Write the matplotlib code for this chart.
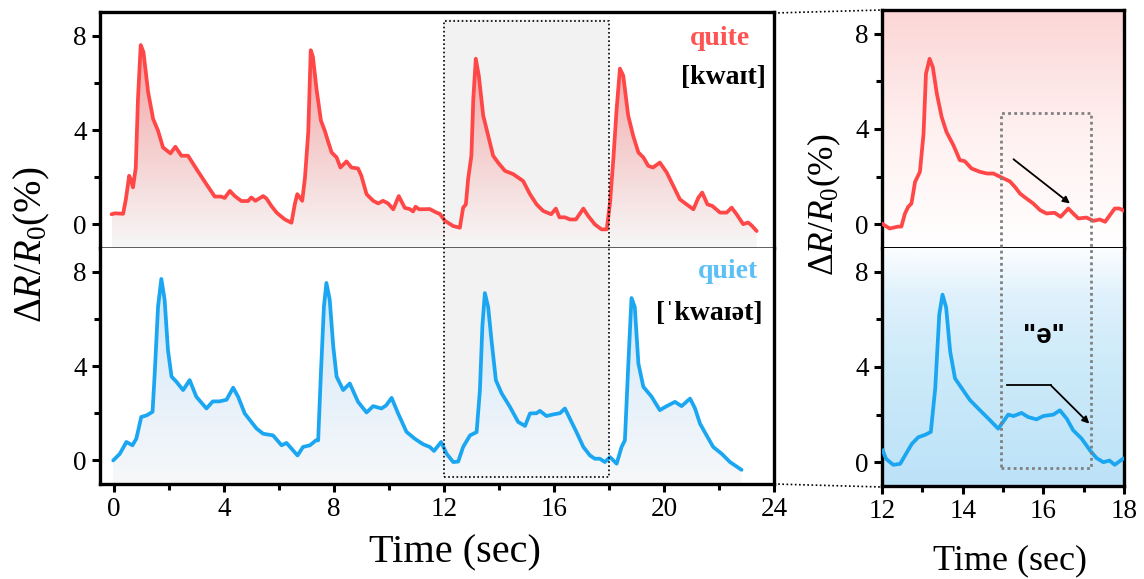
import numpy as np
import matplotlib
matplotlib.use("Agg")
import matplotlib.pyplot as plt
from matplotlib.colors import LinearSegmentedColormap
from matplotlib.lines import Line2D
from matplotlib.patches import Polygon, Rectangle
from matplotlib.transforms import blended_transform_factory

plt.rcParams['font.family'] = ['Liberation Serif', 'DejaVu Serif']
plt.rcParams['mathtext.fontset'] = 'custom'
plt.rcParams['mathtext.rm'] = 'Liberation Serif'
plt.rcParams['mathtext.it'] = 'Liberation Serif:italic'

RED = '#ff4747'
BLUE = '#1ba6f2'

# "quite" trace, full recording (sec, %)
quite_t = [-0.08, 0.04, 0.34, 0.44, 0.56, 0.62, 0.70, 0.80, 0.88, 0.98,
           1.08, 1.25, 1.43, 1.61, 1.79, 2.06, 2.24, 2.46, 2.70, 3.01,
           3.37, 3.67, 3.90, 4.03, 4.22, 4.40, 4.64, 4.88, 5.00, 5.15,
           5.43, 5.55, 5.73, 5.92, 6.00, 6.22, 6.46, 6.58, 6.67, 6.76,
           6.85, 6.95, 7.07, 7.16, 7.24, 7.37, 7.53, 7.67, 7.80, 7.92,
           8.10, 8.24, 8.46, 8.64, 8.88, 9.00, 9.19, 9.43, 9.61, 9.79,
           9.97, 10.16, 10.36, 10.58, 10.76, 10.88, 10.97, 11.10, 11.49, 11.73,
           11.85, 12.04, 12.34, 12.58, 12.70, 12.80, 12.88, 13.00, 13.07, 13.16,
           13.27, 13.43, 13.61, 13.79, 13.97, 14.22, 14.52, 14.88, 15.13, 15.37,
           15.61, 15.90, 16.07, 16.20, 16.40, 16.58, 16.80, 17.07, 17.25, 17.49,
           17.73, 17.92, 18.04, 18.16, 18.28, 18.40, 18.52, 18.70, 18.88, 19.07,
           19.25, 19.43, 19.60, 19.85, 20.10, 20.34, 20.58, 20.82, 21.07, 21.25,
           21.39, 21.58, 21.76, 22.04, 22.28, 22.46, 22.64, 22.88, 23.06, 23.19,
           23.37]
quite_v = [0.43, 0.47, 0.45, 1.06, 2.06, 1.90, 1.57, 2.40, 5.30, 7.60,
           7.30, 5.60, 4.47, 3.97, 3.26, 3.01, 3.29, 2.91, 2.91, 2.34,
           1.70, 1.18, 1.18, 1.12, 1.42, 1.20, 0.99, 0.99, 1.14, 1.00,
           1.20, 1.10, 0.78, 0.50, 0.42, 0.21, 0.07, 0.85, 1.28, 1.15,
           1.00, 1.97, 3.90, 7.38, 7.10, 5.74, 4.40, 3.97, 3.48, 3.05,
           2.84, 2.41, 2.67, 2.41, 2.37, 2.06, 1.28, 1.00, 0.89, 1.00,
           0.89, 0.64, 1.20, 0.70, 0.65, 0.55, 0.75, 0.64, 0.65, 0.50,
           0.45, 0.15, -0.07, -0.14, 0.71, 0.85, 1.91, 2.91, 5.32, 7.02,
           6.30, 4.61, 3.76, 2.91, 2.62, 2.27, 2.13, 1.84, 1.28, 0.85,
           0.57, 0.43, 0.67, 0.30, 0.30, 0.21, 0.21, 0.67, 0.35, 0.00,
           -0.21, -0.21, 0.92, 2.77, 4.89, 6.60, 6.30, 4.61, 3.76, 3.05,
           2.84, 2.48, 2.41, 2.62, 2.20, 1.63, 1.06, 0.85, 0.64, 1.13,
           1.35, 0.85, 0.78, 0.50, 0.50, 0.71, 0.43, 0.01, 0.08, -0.05,
           -0.28]

# "quiet" trace, full recording
quiet_t = [-0.02, 0.22, 0.46, 0.68, 0.82, 1.00, 1.20, 1.41, 1.49, 1.61,
           1.73, 1.85, 1.97, 2.10, 2.28, 2.52, 2.76, 3.00, 3.37, 3.60,
           3.84, 4.10, 4.34, 4.52, 4.76, 5.19, 5.43, 5.79, 6.10, 6.28,
           6.46, 6.68, 6.88, 7.13, 7.35, 7.43, 7.53, 7.64, 7.73, 7.85,
           7.98, 8.10, 8.34, 8.58, 8.88, 9.19, 9.43, 9.73, 9.90, 10.10,
           10.34, 10.64, 10.94, 11.25, 11.49, 11.64, 11.90, 12.10, 12.34, 12.52,
           12.70, 12.95, 13.19, 13.31, 13.40, 13.49, 13.61, 13.73, 13.89, 14.10,
           14.40, 14.70, 14.95, 15.13, 15.37, 15.49, 15.73, 15.98, 16.22, 16.40,
           16.58, 16.82, 17.07, 17.31, 17.49, 17.67, 17.85, 18.04, 18.28, 18.46,
           18.58, 18.70, 18.82, 18.94, 19.07, 19.25, 19.55, 19.85, 20.10, 20.40,
           20.64, 20.95, 21.13, 21.31, 21.55, 21.79, 22.10, 22.40, 22.82]
quiet_v = [0.00, 0.28, 0.78, 0.64, 0.92, 1.84, 1.91, 2.06, 3.70, 6.52,
           7.69, 6.80, 4.68, 3.55, 3.33, 2.98, 3.40, 2.70, 2.20, 2.50,
           2.50, 2.57, 3.08, 2.70, 1.99, 1.35, 1.13, 1.06, 0.64, 0.74,
           0.50, 0.21, 0.57, 0.64, 0.85, 0.85, 3.69, 6.52, 7.52, 6.81,
           4.82, 3.55, 2.98, 3.26, 2.48, 2.03, 2.30, 2.20, 2.33, 2.65,
           1.98, 1.21, 0.92, 0.68, 0.57, 0.40, 0.78, 0.28, -0.07, -0.05,
           0.57, 1.06, 1.20, 2.98, 5.70, 7.09, 6.50, 5.10, 3.40, 2.84,
           2.27, 1.63, 1.46, 1.99, 2.00, 2.10, 1.88, 1.95, 2.00, 2.20,
           1.77, 1.20, 0.57, 0.21, 0.07, 0.07, -0.07, 0.14, -0.14, 0.57,
           0.85, 3.97, 6.88, 6.50, 4.11, 3.12, 2.70, 2.13, 2.30, 2.48,
           2.30, 2.62, 2.20, 1.56, 1.06, 0.57, 0.28, -0.07, -0.40]

# close-up of the 12-18 s window
zoom_quite_t = [12.02, 12.19, 12.40, 12.48, 12.57, 12.65, 12.73, 12.82, 12.94, 13.03,
                13.09, 13.18, 13.26, 13.36, 13.48, 13.60, 13.77, 13.93, 14.05, 14.22,
                14.43, 14.60, 14.76, 14.93, 15.17, 15.30, 15.42, 15.58, 15.75, 15.92,
                16.08, 16.28, 16.43, 16.62, 16.74, 16.87, 17.07, 17.24, 17.40, 17.53,
                17.65, 17.77, 17.88, 17.97]
zoom_quite_v = [0.00, -0.18, -0.10, -0.10, 0.45, 0.73, 0.87, 1.78, 2.20, 3.80,
                6.32, 6.95, 6.60, 5.48, 4.50, 3.87, 3.32, 2.69, 2.65, 2.34,
                2.20, 2.13, 2.13, 1.99, 1.80, 1.56, 1.29, 1.08, 0.87, 0.59,
                0.45, 0.48, 0.31, 0.66, 0.45, 0.24, 0.28, 0.14, 0.20, 0.10,
                0.38, 0.66, 0.66, 0.59]
zoom_quiet_t = [12.02, 12.10, 12.28, 12.45, 12.57, 12.74, 12.90, 13.07, 13.21, 13.32,
                13.42, 13.50, 13.59, 13.69, 13.81, 13.98, 14.18, 14.43, 14.68, 14.88,
                15.00, 15.13, 15.26, 15.46, 15.62, 15.83, 16.00, 16.25, 16.41, 16.58,
                16.74, 16.95, 17.16, 17.32, 17.49, 17.64, 17.77, 17.97]
zoom_quiet_v = [0.49, 0.14, -0.11, -0.07, 0.28, 0.77, 1.05, 1.15, 1.27, 3.10,
                6.20, 7.04, 6.50, 4.65, 3.52, 3.10, 2.61, 2.18, 1.76, 1.41,
                1.69, 2.00, 1.94, 2.07, 1.90, 1.80, 1.94, 2.00, 2.18, 1.83,
                1.34, 0.99, 0.49, 0.17, 0.00, 0.07, -0.11, 0.14]

YLIM = (-1, 9)
W, H = 1144, 579


def fy(py):
    # pixel row -> figure fraction
    return 1 - py / H


def style_axes(ax, xmajor, xminor, show_x, sep_color, sep_width):
    ax.set_ylim(*YLIM)
    ax.set_yticks([0, 4, 8])
    ax.set_yticks([2, 6], minor=True)
    ax.set_xticks(xmajor)
    ax.set_xticks(xminor, minor=True)
    ax.tick_params(which='both', direction='out', width=2.2, labelsize=19.5,
                   right=False, top=False)
    ax.tick_params(which='major', length=6)
    ax.tick_params(which='minor', length=4)
    for s in ax.spines.values():
        s.set_linewidth(2.4)
    if not show_x:
        ax.tick_params(axis='x', which='both', bottom=False, labelbottom=False)
        ax.spines['bottom'].set_linewidth(sep_width)
        ax.spines['bottom'].set_color(sep_color)
        ax.spines['bottom'].set_zorder(5)
    else:
        ax.spines['top'].set_visible(False)


def gradient_under(ax, x, y, bottom_color, top_color):
    x = np.asarray(x)
    y = np.asarray(y)
    verts = np.column_stack([np.r_[x[0], x, x[-1]], np.r_[YLIM[0], y, YLIM[0]]])
    poly = Polygon(verts, closed=True, facecolor='none', edgecolor='none')
    ax.add_patch(poly)
    cmap = LinearSegmentedColormap.from_list('g', [bottom_color, top_color])
    grad = np.linspace(0, 1, 200)[:, None]
    im = ax.imshow(grad, cmap=cmap, aspect='auto', origin='lower',
                   extent=[x.min(), x.max(), YLIM[0], 8.5], zorder=1,
                   interpolation='bilinear')
    im.set_clip_path(poly)


fig = plt.figure(figsize=(W / 100, H / 100), dpi=100)

left_x0, left_w = 100 / W, 674 / W
right_x0, right_w = 882 / W, 242 / W
sep = fy(248)

ax_q = fig.add_axes([left_x0, sep, left_w, fy(12) - sep])
ax_t = fig.add_axes([left_x0, fy(484), left_w, sep - fy(484)], sharex=ax_q)
zx_q = fig.add_axes([right_x0, sep, right_w, fy(10) - sep])
zx_t = fig.add_axes([right_x0, fy(486), right_w, sep - fy(486)], sharex=zx_q)

# left panel: full recording
full_major = np.arange(0, 25, 4)
full_minor = np.arange(2, 24, 4)

ax_q.axvspan(12, 18, ymin=0, ymax=(8.72 - YLIM[0]) / 10, color='#f2f2f2', lw=0, zorder=0)
ax_t.axvspan(12, 18, ymin=(-0.68 - YLIM[0]) / 10, ymax=1, color='#f2f2f2', lw=0, zorder=0)

gradient_under(ax_q, quite_t, quite_v, '#f7f7f7', '#f29a9a')
gradient_under(ax_t, quiet_t, quiet_v, '#f7f8fa', '#cce5f8')
ax_q.plot(quite_t, quite_v, color=RED, lw=2.7, solid_joinstyle='round',
          solid_capstyle='round', zorder=3)
ax_t.plot(quiet_t, quiet_v, color=BLUE, lw=2.7, solid_joinstyle='round',
          solid_capstyle='round', zorder=3)

ax_q.set_xlim(-0.5, 24)
style_axes(ax_q, full_major, full_minor, False, '#444444', 1.2)
style_axes(ax_t, full_major, full_minor, True, 'k', 1.0)

ax_q.text(23.15, 7.6, 'quite', color='#ff5252', fontsize=20, fontweight='bold',
          ha='right', va='baseline', zorder=4)
ax_q.text(23.7, 5.95, '[kwaɪt]', color='black', fontsize=20, fontweight='bold',
          ha='right', va='baseline', zorder=4)
ax_t.text(23.42, 7.74, 'quiet', color='#5cc0f6', fontsize=20, fontweight='bold',
          ha='right', va='baseline', zorder=4)
ax_t.text(23.6, 5.95, '[ˈkwaɪət]', color='black', fontsize=20, fontweight='bold',
          ha='right', va='baseline', zorder=4)

# right panel: 12-18 s close-up, tinted backgrounds
cmap_r = LinearSegmentedColormap.from_list('bgq', ['#ffffff', '#fff0f0', '#fcd6d6'])
zx_q.imshow(np.linspace(0, 1, 200)[:, None], cmap=cmap_r, aspect='auto', origin='lower',
            extent=[0, 1, 0, 1], transform=zx_q.transAxes, zorder=0)
cmap_b = LinearSegmentedColormap.from_list(
    'bgt', [(0, '#bce2f8'), (0.5, '#cceaf9'), (0.8, '#dff1fc'), (1, '#fbfdff')])
zx_t.imshow(np.linspace(0, 1, 200)[:, None], cmap=cmap_b, aspect='auto', origin='lower',
            extent=[0, 1, 0, 1], transform=zx_t.transAxes, zorder=0)

zx_q.plot(zoom_quite_t, zoom_quite_v, color=RED, lw=2.7, solid_joinstyle='round', zorder=3)
zx_t.plot(zoom_quiet_t, zoom_quiet_v, color=BLUE, lw=2.7, solid_joinstyle='round', zorder=3)

zx_q.set_xlim(12, 18)
style_axes(zx_q, [12, 14, 16, 18], [13, 15, 17], False, 'black', 1.4)
style_axes(zx_t, [12, 14, 16, 18], [13, 15, 17], True, 'k', 1.0)

zx_q.annotate('', xy=(16.66, 0.87), xytext=(15.26, 2.73),
              arrowprops=dict(arrowstyle='-|>', color='black', lw=1.3,
                              mutation_scale=10, shrinkA=0, shrinkB=0), zorder=4)
zx_t.plot([15.09, 16.18], [3.24, 3.24], color='black', lw=1.3, zorder=4)
zx_t.annotate('', xy=(17.14, 1.62), xytext=(16.18, 3.24),
              arrowprops=dict(arrowstyle='-|>', color='black', lw=1.3,
                              mutation_scale=10, shrinkA=0, shrinkB=0), zorder=4)
zx_t.text(16.02, 5.3, '"ə"', family=['Liberation Sans', 'DejaVu Sans'],
          fontsize=20, fontweight='bold', ha='center', va='center', zorder=4)

# frames spanning both rows
tr_left = blended_transform_factory(ax_t.transData, fig.transFigure)
fig.add_artist(Rectangle((12, fy(476.7)), 6, fy(21) - fy(476.7), transform=tr_left,
                         fill=False, edgecolor='black', lw=1.2, ls=(0, (1, 1.5))))
tr_right = blended_transform_factory(zx_t.transData, fig.transFigure)
fig.add_artist(Rectangle((14.95, fy(467.7)), 17.18 - 14.95, fy(113.3) - fy(467.7),
                         transform=tr_right, fill=False, edgecolor='#808080',
                         lw=2, ls=(0, (1, 1.2))))

# dotted connectors between the panels
fig.add_artist(Line2D([774 / W, 882 / W], [fy(13), fy(10)], transform=fig.transFigure,
                      color='black', lw=1.2, ls=(0, (1, 1.5))))
fig.add_artist(Line2D([774 / W, 882 / W], [fy(484), fy(487)], transform=fig.transFigure,
                      color='black', lw=1.2, ls=(0, (1, 1.5))))

ylabel = r'$\Delta R/R_0$(%)'
fig.text(32 / W, fy(245), ylabel, rotation=90, fontsize=28, ha='center', va='center')
fig.text(824 / W, fy(205), ylabel, rotation=90, fontsize=25.5, ha='center', va='center')
fig.text(455 / W, fy(562), 'Time (sec)', fontsize=29, ha='center', va='baseline')
fig.text(1010 / W, fy(569), 'Time (sec)', fontsize=26, ha='center', va='baseline')

fig.savefig('out.png', dpi=100)
